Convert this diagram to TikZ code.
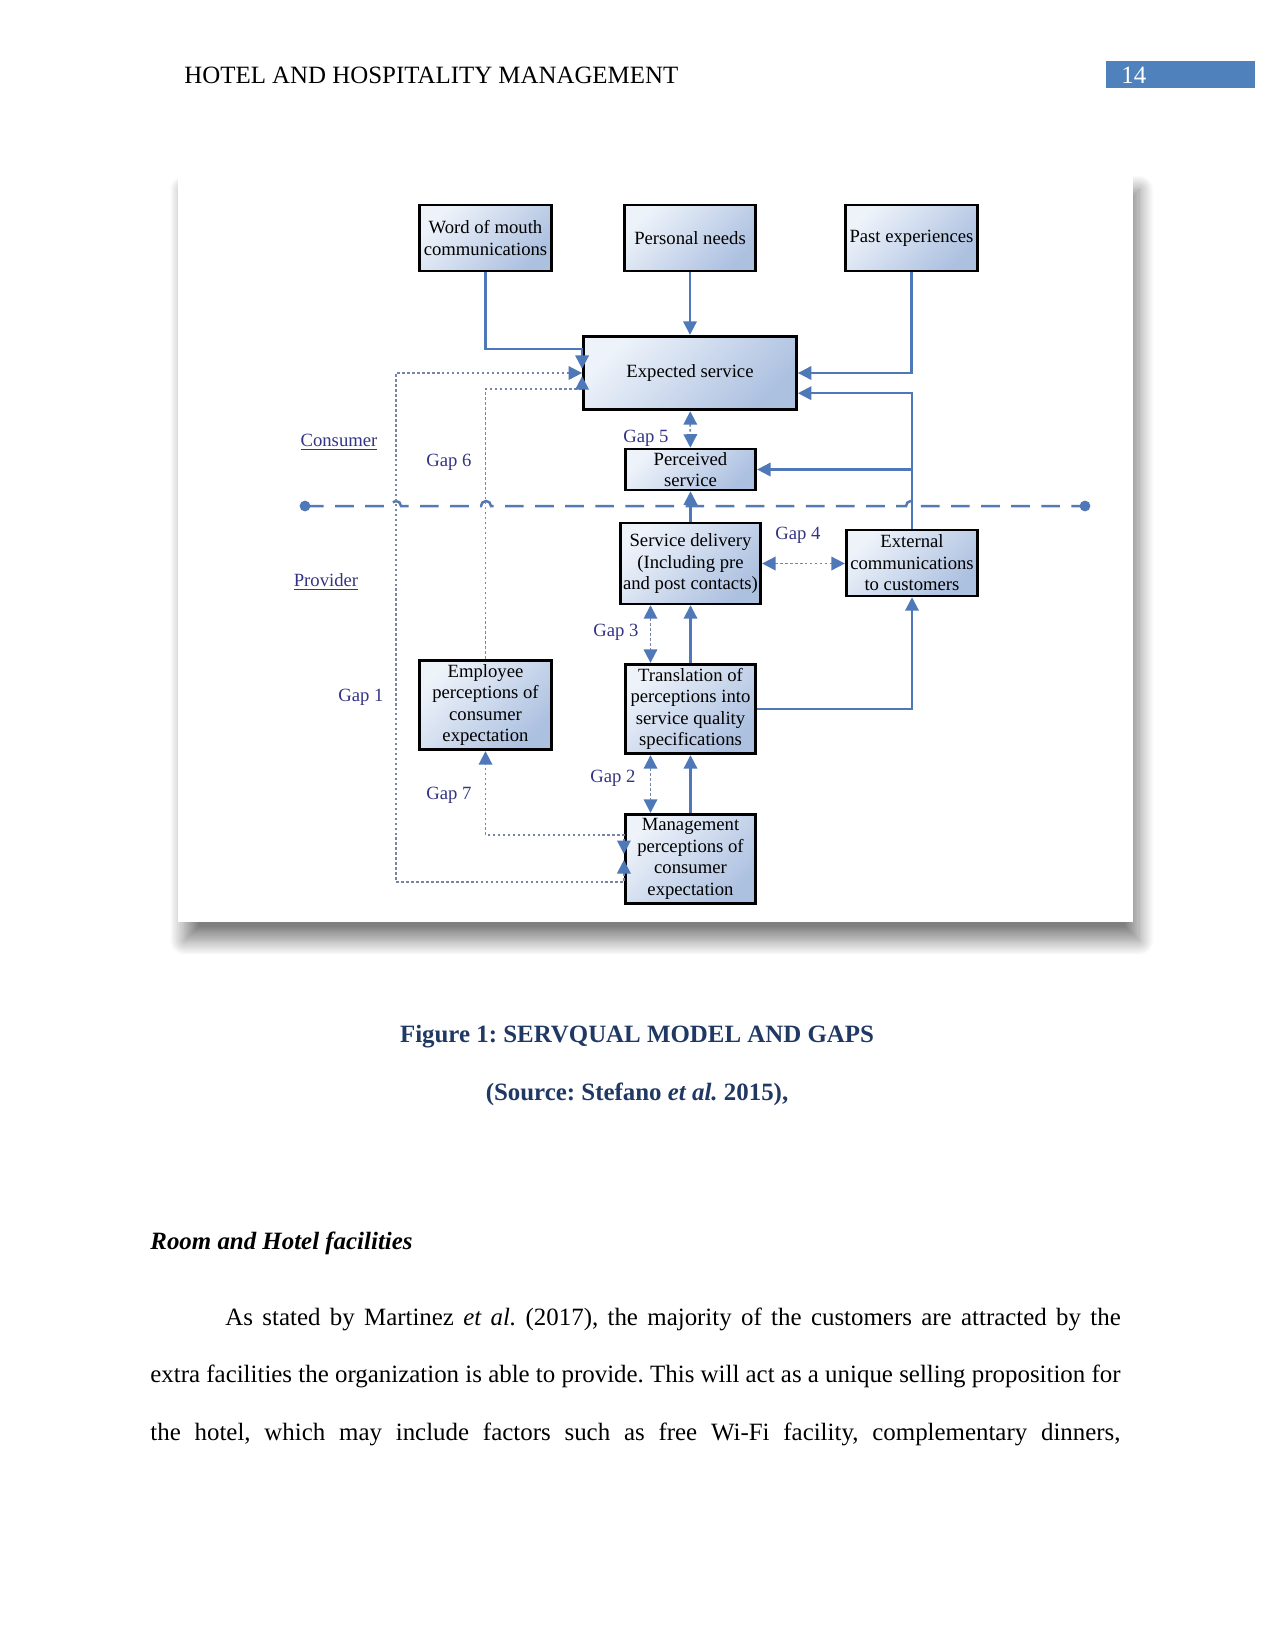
\documentclass[tikz,border=0pt]{standalone}
\usepackage{fontspec}
\setmainfont{Liberation Serif}
\usetikzlibrary{arrows.meta, calc, shadows.blur}
\frenchspacing

\definecolor{lineblue}{RGB}{79,120,185}
\definecolor{dotgray}{RGB}{118,132,165}
\definecolor{gaptext}{RGB}{52,52,132}
\definecolor{boxtop}{RGB}{238,243,250}
\definecolor{boxbot}{RGB}{172,192,224}
\definecolor{capblue}{RGB}{31,56,100}
\definecolor{pagebox}{RGB}{79,129,189}

\begin{document}
\begin{tikzpicture}[x=0.016933cm, y=-0.016933cm,
    font=\fontsize{12}{14.4}\selectfont,
    blk/.style={draw, line width=1.3pt, top color=boxtop, bottom color=boxbot,
      shading angle=45, align=center, inner sep=0pt,
      font=\fontsize{9}{10.4}\selectfont},
    lab/.style={text=gaptext, inner sep=0pt, font=\fontsize{9}{10.4}\selectfont},
    ln/.style={draw=lineblue, line width=1pt, -gtip},
    gapln/.style={draw=dotgray, line width=0.9pt, dash pattern=on 1.2pt off 1.2pt},
    sep/.style={draw=lineblue!90!gray, line width=1.2pt, dash pattern=on 9pt off 5.5pt}]
  \tikzset{gtip/.tip={Triangle[length=6.5pt,width=6.5pt,color=lineblue]}}
  \useasboundingbox (0,0) rectangle (1275,1650);

  % page head
  \node[anchor=west, inner sep=0pt] (head) at (184,75) {HOTEL AND HOSPITALITY MANAGEMENT};
  \fill[pagebox] (1106,61) rectangle (1255,88);
  \node[anchor=west, inner sep=0pt, text=white] (pnum) at (1121,75) {14};

  % figure
  \fill[white, blur shadow={shadow xshift=3pt, shadow yshift=-9pt,
    shadow blur radius=7pt, shadow blur steps=24, shadow opacity=50}] (178,171) rectangle (1133,922);

  \node[blk, minimum width=63.8pt, minimum height=31.7pt] (wom) at (485.5,238) {Word of mouth\\communications};
  \node[blk, minimum width=63.4pt, minimum height=31.7pt] (needs) at (690,238) {Personal needs};
  \node[blk, minimum width=63.8pt, minimum height=31.7pt] (past) at (911.5,238) {Past experiences};
  \node[blk, minimum width=102.7pt, minimum height=35.5pt] (expected) at (690,373) {Expected service};
  \node[blk, minimum width=62.9pt, minimum height=19.7pt] (perceived) at (690.5,469.5) {Perceived\\service};
  \node[blk, minimum width=67.7pt, minimum height=38.9pt] (delivery) at (690.5,563.5) {Service delivery\\(Including pre\\and post contacts)};
  \node[blk, minimum width=63.4pt, minimum height=31.7pt] (external) at (912,563) {External\\communications\\to customers};
  \node[blk, minimum width=63.8pt, minimum height=43.2pt] (employee) at (485.5,705) {Employee\\perceptions of\\consumer\\expectation};
  \node[blk, minimum width=62.9pt, minimum height=43.2pt] (translation) at (690.5,709) {Translation of\\perceptions into\\service quality\\specifications};
  \node[blk, minimum width=62.9pt, minimum height=43.2pt] (management) at (690.5,859) {Management\\perceptions of\\consumer\\expectation};

  \coordinate (cl) at (305,506);
  \coordinate (cr) at (1085,506);
  \coordinate (g1) at (396,373);
  \draw[sep] (cl) -- (391,506) arc[start angle=180, end angle=360, radius=5]
    -- (481,506) arc[start angle=180, end angle=360, radius=5]
    -- (906,506) arc[start angle=180, end angle=360, radius=5] -- (cr);
  \fill[lineblue] (cl) circle[radius=2.6pt] (cr) circle[radius=2.6pt];

  \node[lab] (cons) at (339,442) {\underline{Consumer}};
  \node[lab] (prov) at (326,582) {\underline{Provider}};
  \node[lab] (gap1) at (361,697) {Gap 1};
  \node[lab] (gap2) at (613,778) {Gap 2};
  \node[lab] (gap3) at (616,632) {Gap 3};
  \node[lab] (gap4) at (798,535) {Gap 4};
  \node[lab] (gap5) at (646,438) {Gap 5};
  \node[lab] (gap6) at (449,462) {Gap 6};
  \node[lab] (gap7) at (449,795) {Gap 7};

  \draw[ln] (needs) -- (expected);
  \draw[ln] (wom.south) |- ($(expected.north west)+(0,14)$) -- ($(expected.north west)+(0,34)$);
  \draw[ln] (past.south) |- (expected.east);
  \draw[ln] (external.north) |- ($(expected.south east)+(0,-18)$);
  \draw[ln] (external.north |- perceived.east) -- (perceived.east);
  \draw[ln] (delivery) -- (perceived);
  \draw[ln] (translation) -- (delivery);
  \draw[ln] (translation.east) -| (external.south);
  \draw[ln] (management) -- (translation);

  \draw[gapln, gtip-gtip] (expected) -- (perceived);
  \draw[gapln, gtip-gtip] (delivery.east) -- (delivery.east -| external.west);
  \draw[gapln, gtip-gtip] ($(delivery.south)+(-40,0)$) -- ($(translation.north)+(-40,0)$);
  \draw[gapln, gtip-gtip] ($(translation.south)+(-40,0)$) -- ($(management.north)+(-40,0)$);
  \draw[gapln, gtip-gtip] ($(management.west)+(0,-5)$) -- ($(management.west)+(0,-24)$) -| (employee.south);
  \draw[gapln, gtip-gtip] ($(management.west)+(0,1)$) -- ($(management.west)+(0,23)$) -| (g1) -- (expected.west);
  \draw[gapln, -gtip] (employee.north) |- ($(expected.south west)+(0,-22)$) -- ($(expected.south west)+(0,-35)$);

  % caption and text
  \node[font=\fontsize{12}{14.4}\selectfont\bfseries, text=capblue] (cap) at (637,1037) {Figure 1: SERVQUAL MODEL AND GAPS};
  \node[font=\fontsize{12}{14.4}\selectfont\bfseries, text=capblue] (src) at (637,1094) {(Source: Stefano \textit{et al.} 2015),};
  \node[anchor=base west, inner sep=0pt, font=\fontsize{12}{14.4}\selectfont\bfseries\itshape] (sec) at (150,1249) {Room and Hotel facilities};
  \node[anchor=base west, inner sep=0pt] (l1) at (225,1325)
    {\makebox[431.5pt][s]{As stated by Martinez \textit{et al.} (2017), the majority of the customers are attracted by the}};
  \node[anchor=base west, inner sep=0pt] (l2) at (150,1382)
    {\makebox[467.5pt][s]{extra facilities the organization is able to provide. This will act as a unique selling proposition for}};
  \node[anchor=base west, inner sep=0pt] (l3) at (150,1440)
    {\makebox[467.5pt][s]{the hotel, which may include factors such as free Wi-Fi facility, complementary dinners,}};
\end{tikzpicture}
\end{document}
